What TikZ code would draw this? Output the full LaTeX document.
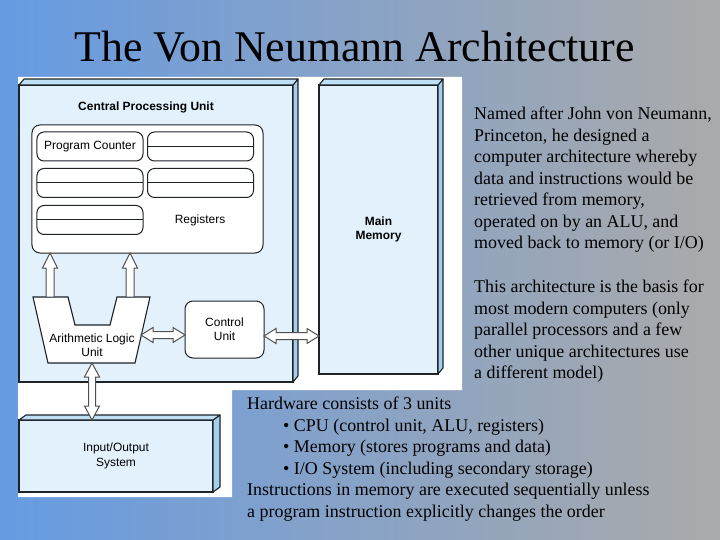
\documentclass[tikz,border=0pt]{standalone}
\usepackage{fontspec}
\setmainfont{Liberation Serif}
\newfontfamily\diag{Liberation Sans}
\usetikzlibrary{calc}
\definecolor{bgL}{RGB}{102,155,226}
\definecolor{bgR}{RGB}{170,170,170}
\definecolor{boxfill}{RGB}{226,241,251}
\definecolor{boxside}{RGB}{165,208,236}
\definecolor{boxtop}{RGB}{190,224,244}
\definecolor{edge}{RGB}{30,35,40}
\definecolor{arrline}{RGB}{80,80,80}
\newcommand\uparr[2]{% #1 bottom, #2 top
  \draw[hollow] (#2) -- ($(#2)+(7.5,15)$) -- ($(#2)+(4,15)$) -- ($(#1)+(4,0)$) -- ($(#1)+(-4,0)$) -- ($(#2)+(-4,15)$) -- ($(#2)+(-7.5,15)$) -- cycle;}
\newcommand\vdarr[2]{% #1 top, #2 bottom
  \draw[hollow] (#1) -- ($(#1)+(7.5,14)$) -- ($(#1)+(3.5,14)$) -- ($(#2)+(3.5,-14)$) -- ($(#2)+(7.5,-14)$) -- (#2) -- ($(#2)+(-7.5,-14)$) -- ($(#2)+(-3.5,-14)$) -- ($(#1)+(-3.5,14)$) -- ($(#1)+(-7.5,14)$) -- cycle;}
\newcommand\hdarr[2]{% #1 left, #2 right
  \draw[hollow] (#1) -- ($(#1)+(12,-7.5)$) -- ($(#1)+(12,-3.5)$) -- ($(#2)+(-12,-3.5)$) -- ($(#2)+(-12,-7.5)$) -- (#2) -- ($(#2)+(-12,7.5)$) -- ($(#2)+(-12,3.5)$) -- ($(#1)+(12,3.5)$) -- ($(#1)+(12,7.5)$) -- cycle;}
\begin{document}
\begin{tikzpicture}[x=1bp,y=-1bp,
  front/.style={draw=edge, line width=1.1bp, fill=boxfill, inner sep=0, outer sep=0},
  side/.style={draw=edge, line width=1.1bp, fill=boxside, line join=round},
  topface/.style={draw=edge, line width=1.1bp, fill=boxtop, line join=round},
  rbox/.style={draw=edge, line width=1bp, fill=white, rounded corners=8bp, inner sep=0, outer sep=0},
  cell/.style={rbox, rounded corners=7bp, minimum width=106bp, minimum height=29bp},
  lbl/.style={font=\diag\fontsize{12}{14.5}\selectfont, align=center, text=black},
  blbl/.style={font=\diag\bfseries\fontsize{12}{14.5}\selectfont, align=center, text=black},
  hollow/.style={draw=arrline, line width=1bp, fill=white, line join=miter},
  body/.style={font=\fontsize{18}{21.6}\selectfont, align=left, anchor=north west, inner sep=0, text=black}
]
\useasboundingbox (0,0) rectangle (720,540);
\shade[left color=bgL, right color=bgR] (0,0) rectangle (720,540);
% picture area
\fill[white] (18,77) -- (462,77) -- (462,390) -- (232,390) -- (232,497) -- (18,497) -- cycle;

% CPU box
\node[front, minimum width=274bp, minimum height=297bp] (cpu) at (156,233.5) {};
\draw[side] (cpu.north east) -- ++(5,-6) -- ($(cpu.south east)+(5,-6)$) -- (cpu.south east) -- cycle;
\draw[topface] (cpu.north west) -- ++(5,-6) -- ($(cpu.north east)+(5,-6)$) -- (cpu.north east) -- cycle;
\node[blbl] (cputitle) at (146,107) {Central Processing Unit};

% Registers
\node[rbox, minimum width=231bp, minimum height=128bp] (regs) at (147.5,189) {};
\node[cell, lbl] (pc) at (90,146.5) {Program Counter};
\node[cell] (r1) at (200.5,146.5) {};
\node[cell] (r2) at (90,183) {};
\node[cell] (r3) at (200.5,183) {};
\node[cell] (r4) at (90,220) {};
\foreach \r in {r1,r2,r3,r4} \draw[edge, line width=1bp] (\r.west) -- (\r.east);
\node[lbl] (reglbl) at (200,220) {Registers};

% ALU
\draw[draw=edge, line width=1.1bp, fill=white, line join=miter]
  (33,297) -- (68,297) -- (75,325) -- (110,325) -- (117,297) -- (150,297) -- (135,363) -- (48,363) -- cycle;
\node[lbl] (alu) at (92,345) {Arithmetic Logic\\Unit};
\coordinate (aluL) at (50,297);
\coordinate (aluR) at (130,297);
\coordinate (aluE) at (141,335);
\coordinate (aluS) at (92,363);

% Control unit
\node[rbox, lbl, minimum width=79bp, minimum height=57bp] (cu) at (224.5,329.5) {Control\\Unit};

% Main memory
\node[front, blbl, minimum width=119bp, minimum height=289bp] (mem) at (378.5,229.5) {Main\\Memory};
\draw[side] (mem.north east) -- ++(5,-6) -- ($(mem.south east)+(5,-6)$) -- (mem.south east) -- cycle;
\draw[topface] (mem.north west) -- ++(5,-6) -- ($(mem.north east)+(5,-6)$) -- (mem.north east) -- cycle;

% I/O system
\node[front, lbl, minimum width=194bp, minimum height=72bp] (io) at (116,456) {Input/Output\\System};
\draw[side] (io.north east) -- ++(7,-5) -- ($(io.south east)+(7,-5)$) -- (io.south east) -- cycle;
\draw[topface] (io.north west) -- ++(7,-5) -- ($(io.north east)+(7,-5)$) -- (io.north east) -- cycle;

% connectors
\uparr{aluL}{aluL |- regs.south}
\uparr{aluR}{aluR |- regs.south}
\hdarr{aluE}{aluE -| cu.west}
\coordinate (cmy) at (0,336);
\hdarr{cu.east |- cmy}{mem.west |- cmy}
\vdarr{aluS}{aluS |- io.north}

% texts
\node[font=\fontsize{44}{50}\selectfont, anchor=base, inner sep=0] (title) at (354.5,62) {The Von Neumann Architecture};
\node[body] (p1) at (474,107) {Named after John von Neumann,\\Princeton, he designed a\\computer architecture whereby\\data and instructions would be\\retrieved from memory,\\operated on by an ALU, and\\moved back to memory (or I/O)};
\node[body] (p2) at (474,280) {This architecture is the basis for\\most modern computers (only\\parallel processors and a few\\other unique architectures use\\a different model)};
\node[body] (p3) at (247,397) {Hardware consists of 3 units\\
\hspace*{36bp}• CPU (control unit, ALU, registers)\\
\hspace*{36bp}• Memory (stores programs and data)\\
\hspace*{36bp}• I/O System (including secondary storage)\\
Instructions in memory are executed sequentially unless\\
a program instruction explicitly changes the order};
\end{tikzpicture}
\end{document}
